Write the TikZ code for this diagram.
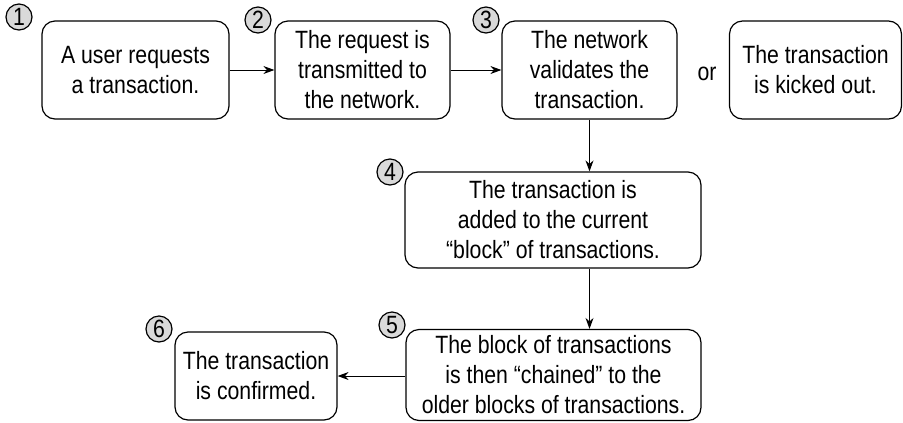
\documentclass[tikz,border=0pt]{standalone}
\usepackage{fontspec}
\setmainfont[FakeStretch=0.85]{Liberation Sans}
\usepackage{tikz}
\usetikzlibrary{arrows.meta,positioning}

\begin{document}
\begin{tikzpicture}[->,>={Stealth[length=11bp,width=8bp]},x=1bp,y=-1bp,line width=1bp,
                    every node/.style={font=\fontsize{25bp}{30bp}\selectfont}]
  \tikzstyle{stepbox}=[draw=black,line width=1.2bp,rounded corners=13bp,align=center,
                       inner sep=0pt,minimum height=98bp]
  \tikzstyle{stepnum}=[circle,draw=black,fill=black!15,line width=1.2bp,inner sep=0pt,
                       minimum size=26bp,font=\fontsize{25bp}{25bp}\selectfont]

  \useasboundingbox (0,0) rectangle (903,422);

  \node[stepbox,minimum width=187bp] (request)   at (135.5,70) {A user requests\\a transaction.};
  \node[stepbox,minimum width=175bp] (transmit)  at (362.5,70) {The request is\\transmitted to\\the network.};
  \node[stepbox,minimum width=175bp] (validate)  at (589.5,70) {The network\\validates the\\transaction.};
  \node (or) at (707,74) {or};
  \node[stepbox,minimum width=172bp] (kicked)    at (815.5,70) {The transaction\\is kicked out.};
  \node[stepbox,minimum width=296bp,minimum height=96bp] (added) at (553,220) {The transaction is\\added to the current\\“block” of transactions.};
  \node[stepbox,minimum width=295bp,minimum height=91bp] (chained) at (553.5,375) {The block of transactions\\is then “chained” to the\\older blocks of transactions.};
  \node[stepbox,minimum width=162bp,minimum height=88bp] (confirmed) at (256,376) {The transaction\\is confirmed.};

  \node[stepnum] (n1) at (19,17)   {1};
  \node[stepnum] (n2) at (258,20)  {2};
  \node[stepnum] (n3) at (486,20)  {3};
  \node[stepnum] (n4) at (390,172) {4};
  \node[stepnum] (n5) at (392,325) {5};
  \node[stepnum] (n6) at (159,329) {6};

  \path (request) edge (transmit)
        (transmit) edge (validate)
        (validate.south) edge (validate.south |- added.north)
        (validate.south |- added.south) edge (validate.south |- chained.north)
        (chained.west |- confirmed.east) edge (confirmed.east)
        ;
\end{tikzpicture}
\end{document}
